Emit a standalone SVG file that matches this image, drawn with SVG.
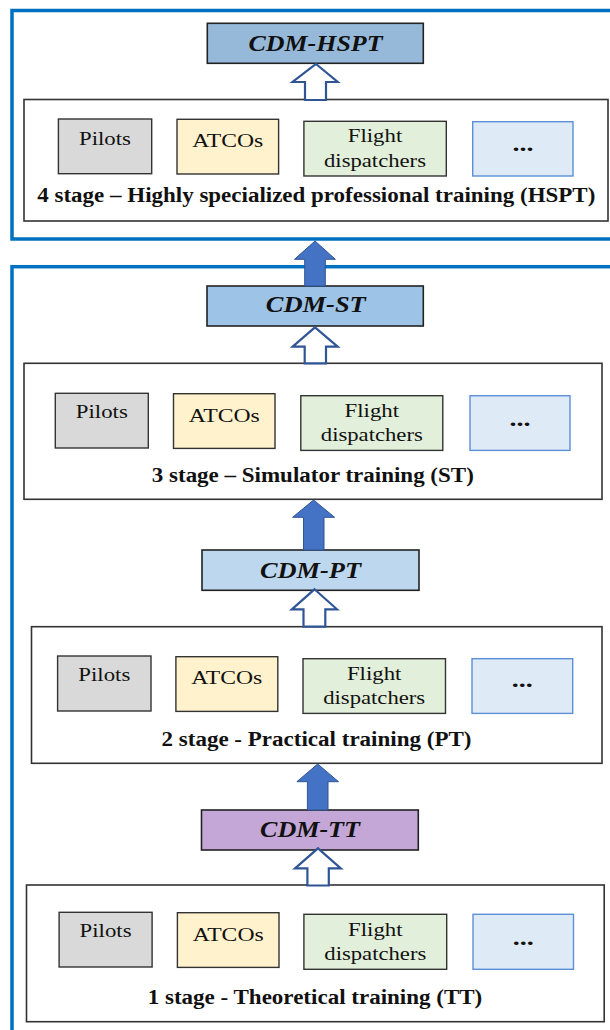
<svg xmlns="http://www.w3.org/2000/svg" width="610" height="1030" viewBox="0 0 610 1030">
<style>
text{font-family:"Liberation Serif","Times New Roman",serif;fill:#111;text-anchor:middle}
.frame{fill:none;stroke:#0070C0;stroke-width:3.5}
.stage{fill:#fff;stroke:#333;stroke-width:1.6}
.cdm{stroke:#222;stroke-width:1.6}
.item{stroke:#333;stroke-width:1.4}
.pil{fill:#D9D9D9}
.atc{fill:#FFF2CC}
.fd{fill:#E2EFDA}
.oth{fill:#DEEBF7;stroke:#5B8FD6;stroke-width:1.4}
.t{font-size:19px}
.dots{font-size:22px;font-weight:bold}
.lbl{font-size:20px;font-weight:bold}
.ct{font-size:23px;font-weight:bold;font-style:italic}
.hollow{fill:#fff;stroke:#2F5597;stroke-width:2.2;stroke-linejoin:miter}
.solid{fill:#4472C4;stroke:#2F5597;stroke-width:1}
</style>

<g id="frames">
<rect class="frame" x="12" y="10.5" width="620" height="228.5"/>
<rect class="frame" x="12" y="266.7" width="620" height="790"/>
</g>

<g id="stage4">
<rect class="stage" x="24" y="99.5" width="584" height="121.5"/>
<rect class="item pil" x="58.4" y="119" width="93.3" height="54.7"/>
<text class="t" x="105" y="144.5" textLength="52" lengthAdjust="spacingAndGlyphs">Pilots</text>
<rect class="item atc" x="177" y="119.3" width="101.6" height="54.7"/>
<text class="t" x="227.8" y="147.3" textLength="71" lengthAdjust="spacingAndGlyphs">ATCOs</text>
<rect class="item fd" x="303.9" y="121.3" width="142.4" height="54.7"/>
<text class="t" x="375" y="142" textLength="54.5" lengthAdjust="spacingAndGlyphs">Flight</text>
<text class="t" x="375" y="167" textLength="102" lengthAdjust="spacingAndGlyphs">dispatchers</text>
<rect class="oth" x="472.7" y="121.7" width="100.3" height="54.3"/>
<text class="dots" x="523" y="150.5" textLength="21" lengthAdjust="spacingAndGlyphs">...</text>
<text class="lbl" x="316.3" y="201.7" textLength="558" lengthAdjust="spacingAndGlyphs">4 stage – Highly specialized professional training (HSPT)</text>
</g>

<g id="cdm-hspt">
<rect class="cdm" x="207.3" y="23.3" width="216" height="40" fill="#96B9DA"/>
<text class="ct" x="315.5" y="50.7" textLength="134" lengthAdjust="spacingAndGlyphs">CDM-HSPT</text>
</g>

<g id="stage3">
<rect class="stage" x="24" y="363.3" width="578" height="136"/>
<rect class="item pil" x="55.3" y="393.3" width="93" height="54.7"/>
<text class="t" x="101.8" y="418" textLength="52" lengthAdjust="spacingAndGlyphs">Pilots</text>
<rect class="item atc" x="173.5" y="393.7" width="101.5" height="54.7"/>
<text class="t" x="224.3" y="421.7" textLength="71" lengthAdjust="spacingAndGlyphs">ATCOs</text>
<rect class="item fd" x="300.8" y="395.7" width="142" height="54.7"/>
<text class="t" x="371.8" y="416.7" textLength="54.5" lengthAdjust="spacingAndGlyphs">Flight</text>
<text class="t" x="371.8" y="441" textLength="102" lengthAdjust="spacingAndGlyphs">dispatchers</text>
<rect class="oth" x="470" y="395.7" width="100" height="54.7"/>
<text class="dots" x="520" y="425.5" textLength="21" lengthAdjust="spacingAndGlyphs">...</text>
<text class="lbl" x="312.8" y="481.7" textLength="322" lengthAdjust="spacingAndGlyphs">3 stage – Simulator training (ST)</text>
</g>

<g id="cdm-st">
<rect class="cdm" x="207" y="286" width="216.3" height="40" fill="#9DC3E6"/>
<text class="ct" x="315.8" y="311.7" textLength="100" lengthAdjust="spacingAndGlyphs">CDM-ST</text>
</g>

<g id="stage2">
<rect class="stage" x="31.5" y="626.7" width="570.5" height="136.6"/>
<rect class="item pil" x="57.6" y="656" width="93.4" height="55"/>
<text class="t" x="104.3" y="680.7" textLength="52" lengthAdjust="spacingAndGlyphs">Pilots</text>
<rect class="item atc" x="175.9" y="656.7" width="101.9" height="54.7"/>
<text class="t" x="226.8" y="684" textLength="71" lengthAdjust="spacingAndGlyphs">ATCOs</text>
<rect class="item fd" x="303" y="658.7" width="142.5" height="54.7"/>
<text class="t" x="374.2" y="680" textLength="54.5" lengthAdjust="spacingAndGlyphs">Flight</text>
<text class="t" x="374.2" y="704" textLength="102" lengthAdjust="spacingAndGlyphs">dispatchers</text>
<rect class="oth" x="472" y="658.7" width="100.7" height="54.7"/>
<text class="dots" x="522.3" y="687" textLength="21" lengthAdjust="spacingAndGlyphs">...</text>
<text class="lbl" x="316.5" y="746" textLength="310" lengthAdjust="spacingAndGlyphs">2 stage - Practical training (PT)</text>
</g>

<g id="cdm-pt">
<rect class="cdm" x="202" y="550" width="217" height="40.3" fill="#BDD7EE"/>
<text class="ct" x="310.5" y="577.7" textLength="101" lengthAdjust="spacingAndGlyphs">CDM-PT</text>
</g>

<g id="stage1">
<rect class="stage" x="26.5" y="885" width="577.7" height="136.7"/>
<rect class="item pil" x="59.1" y="912.3" width="93" height="54.7"/>
<text class="t" x="105.6" y="936.7" textLength="52" lengthAdjust="spacingAndGlyphs">Pilots</text>
<rect class="item atc" x="177.4" y="912.7" width="101.6" height="54.7"/>
<text class="t" x="228.2" y="940.7" textLength="71" lengthAdjust="spacingAndGlyphs">ATCOs</text>
<rect class="item fd" x="303.9" y="914.3" width="142.8" height="55"/>
<text class="t" x="375.3" y="936" textLength="54.5" lengthAdjust="spacingAndGlyphs">Flight</text>
<text class="t" x="375.3" y="960" textLength="102" lengthAdjust="spacingAndGlyphs">dispatchers</text>
<rect class="oth" x="473" y="914.3" width="100.5" height="55"/>
<text class="dots" x="523.2" y="944.5" textLength="21" lengthAdjust="spacingAndGlyphs">...</text>
<text class="lbl" x="315" y="1004" textLength="334.6" lengthAdjust="spacingAndGlyphs">1 stage - Theoretical training (TT)</text>
</g>

<g id="cdm-tt">
<rect class="cdm" x="201.5" y="810" width="216.8" height="40" fill="#C4A7D6"/>
<text class="ct" x="310" y="837.3" textLength="100" lengthAdjust="spacingAndGlyphs">CDM-TT</text>
</g>

<g id="connectors">
<path class="hollow" d="M316,64 L337.7,82 L326,82 L326,100 L305,100 L305,82 L292.6,82 Z"/>
<path class="hollow" d="M315,327.3 L337.7,346.7 L326,346.7 L326,363.3 L304.7,363.3 L304.7,346.7 L292.6,346.7 Z"/>
<path class="hollow" d="M314.5,589.3 L337,609.3 L325.3,609.3 L325.3,626.7 L303.5,626.7 L303.5,609.3 L291.8,609.3 Z"/>
<path class="hollow" d="M318,848.3 L340.8,868.3 L328.8,868.3 L328.8,885.5 L307.4,885.5 L307.4,868.3 L295,868.3 Z"/>
<path class="solid" d="M315,241 L335.4,259.3 L325.3,259.3 L325.3,286 L304.7,286 L304.7,259.3 L294.5,259.3 Z"/>
<path class="solid" d="M313.6,500 L334.6,517.3 L324,517.3 L324,550 L303.5,550 L303.5,517.3 L292.6,517.3 Z"/>
<path class="solid" d="M317.7,764 L338.5,781.7 L328,781.7 L328,810 L307.4,810 L307.4,781.7 L296.9,781.7 Z"/>
</g>
</svg>
